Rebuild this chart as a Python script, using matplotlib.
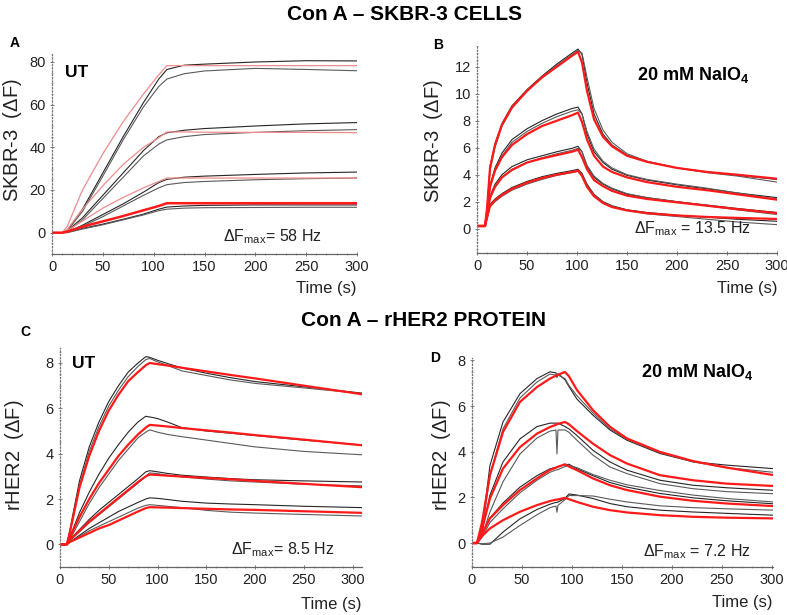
import matplotlib
matplotlib.use("Agg")
import matplotlib.pyplot as plt
from matplotlib.ticker import MultipleLocator

plt.rcParams['font.family'] = ['Liberation Sans', 'DejaVu Sans']
plt.rcParams['mathtext.fontset'] = 'custom'
plt.rcParams['mathtext.rm'] = 'Liberation Sans'
plt.rcParams['mathtext.bf'] = 'Liberation Sans:bold'

# ---- panel A : Con A on SKBR-3 cells, untreated ----
tA = [0, 10, 15, 30, 50, 70, 90, 105, 113, 130, 150, 200, 250, 300]
redA = [
    [0, 0, 3, 20, 37, 52, 65, 74, 78.3, 78.3, 78.3, 78.3, 78.3, 78.3],
    [0, 0, 1.5, 11, 22, 32, 40, 44.5, 47.2, 47.2, 47.1, 47.0, 47.0, 46.9],
    [0, 0, 1, 5.5, 11.5, 16.5, 21, 24, 25.6, 25.6, 25.6, 25.6, 25.6, 25.6],
    [0, 0, 0.5, 2.8, 5.3, 7.8, 10.5, 12.5, 13.8, 13.8, 13.8, 13.8, 13.8, 13.8],
]
blackA = [
    [0, 0, 1, 11, 28, 45, 61, 72, 76.5, 78.5, 79, 80, 80.6, 80.5],
    [0, 0, 0.8, 10, 26.5, 43.5, 59, 68.5, 72, 74.5, 75.8, 77, 76.5, 75.9],
    [0, 0, 0.8, 7, 17.5, 28, 38.5, 45, 46.8, 48, 48.8, 50, 51, 51.6],
    [0, 0, 0.5, 6, 16, 26, 36, 41.5, 43.5, 45, 46, 47, 47.8, 48.3],
    [0, 0, 0.3, 3.5, 8.5, 13.5, 19, 23.5, 25, 26, 26.5, 27.3, 28, 28.4],
    [0, 0, 0.2, 3, 7.5, 12.5, 17.5, 21, 22.5, 23.5, 24, 24.8, 25.3, 25.6],
    [0, 0, 0.2, 2, 4, 6.3, 8.7, 11, 12, 12.5, 12.8, 13, 13, 13],
    [0, 0, 0, 1.7, 3.7, 6, 8.3, 10.3, 11, 11.5, 11.7, 11.8, 11.9, 11.9],
]

# ---- panel B : SKBR-3 cells, 20 mM NaIO4 ----
tB = [0, 8, 10, 13, 18, 25, 35, 50, 65, 80, 95, 101, 105, 110, 117, 126,
      135, 150, 170, 200, 230, 260, 300]
redB = [
    [0.2, 0.2, 1.5, 4.5, 6.2, 7.7, 9.0, 10.2, 11.2, 12.0, 12.8, 13.1, 12.3, 10.2,
     8.1, 6.8, 6.1, 5.4, 4.95, 4.5, 4.2, 4.0, 3.7],
    [0.2, 0.2, 1.2, 3.1, 4.3, 5.3, 6.2, 7.0, 7.6, 8.0, 8.4, 8.6, 7.9, 6.6,
     5.4, 4.6, 4.2, 3.8, 3.45, 3.1, 2.85, 2.55, 2.15],
    [0.2, 0.2, 1.0, 2.3, 3.1, 3.8, 4.35, 4.9, 5.2, 5.45, 5.7, 5.85, 5.3, 4.4,
     3.6, 3.15, 2.8, 2.45, 2.2, 1.95, 1.7, 1.45, 1.15],
    [0.2, 0.2, 0.8, 1.7, 2.1, 2.5, 2.95, 3.4, 3.75, 4.0, 4.2, 4.3, 3.9, 3.1,
     2.4, 1.9, 1.6, 1.35, 1.15, 0.98, 0.87, 0.8, 0.72],
]
blackB = [
    [0.2, 0.2, 1.3, 4.6, 6.3, 7.8, 9.1, 10.3, 11.3, 12.2, 13.0, 13.3, 12.9, 10.8,
     8.5, 7.0, 6.2, 5.45, 4.95, 4.5, 4.2, 3.95, 3.65],
    [0.2, 0.2, 1.2, 4.3, 6.0, 7.6, 8.9, 10.2, 11.2, 12.1, 12.9, 13.2, 13.0, 11.2,
     8.9, 7.3, 6.4, 5.55, 5.0, 4.5, 4.15, 3.9, 3.45],
    [0.2, 0.2, 1.1, 3.2, 4.5, 5.6, 6.6, 7.4, 8.0, 8.5, 8.9, 9.0, 8.5, 7.0,
     5.7, 4.9, 4.4, 3.95, 3.6, 3.25, 2.95, 2.65, 2.3],
    [0.2, 0.2, 1.0, 3.0, 4.3, 5.4, 6.4, 7.2, 7.8, 8.3, 8.7, 8.8, 8.5, 7.2,
     5.9, 5.0, 4.5, 4.0, 3.65, 3.3, 3.0, 2.65, 2.2],
    [0.2, 0.2, 0.9, 2.4, 3.3, 4.0, 4.6, 5.1, 5.4, 5.7, 5.95, 6.1, 5.7, 4.6,
     3.8, 3.3, 2.95, 2.55, 2.3, 2.0, 1.75, 1.5, 1.2],
    [0.2, 0.2, 0.9, 2.2, 3.1, 3.8, 4.4, 4.9, 5.25, 5.55, 5.8, 5.95, 5.7, 4.7,
     3.9, 3.35, 3.0, 2.6, 2.3, 2.0, 1.7, 1.4, 1.05],
    [0.2, 0.2, 0.8, 1.8, 2.2, 2.6, 3.05, 3.5, 3.85, 4.1, 4.3, 4.4, 4.1, 3.3,
     2.55, 2.0, 1.7, 1.4, 1.2, 1.0, 0.85, 0.7, 0.55],
    [0.2, 0.2, 0.7, 1.6, 2.0, 2.4, 2.85, 3.3, 3.65, 3.95, 4.15, 4.25, 4.0, 3.2,
     2.5, 1.95, 1.65, 1.35, 1.1, 0.9, 0.7, 0.5, 0.3],
]

# ---- panel C : Con A on rHER2 protein, untreated ----
tC = [0, 7, 10, 20, 30, 40, 50, 60, 70, 80, 88, 92, 100, 110, 125, 150, 175,
      200, 250, 310]
redC = [
    [0, 0, 0.5, 2.5, 3.9, 5.0, 5.9, 6.6, 7.2, 7.6, 7.9, 8.0, 7.95, 7.89, 7.79,
     7.63, 7.47, 7.32, 7.0, 6.62],
    [0, 0, 0.3, 1.2, 2.0, 2.7, 3.3, 3.9, 4.4, 4.85, 5.15, 5.27, 5.24, 5.2, 5.13,
     5.03, 4.93, 4.82, 4.62, 4.37],
    [0, 0, 0.2, 0.6, 1.0, 1.35, 1.7, 2.05, 2.4, 2.75, 3.0, 3.08, 3.06, 3.03, 2.99,
     2.93, 2.87, 2.8, 2.67, 2.52],
    [0, 0, 0.1, 0.3, 0.5, 0.7, 0.85, 1.05, 1.25, 1.45, 1.6, 1.64, 1.63, 1.62, 1.6,
     1.57, 1.54, 1.52, 1.46, 1.39],
]
blackC = [
    [0, 0, 0.6, 2.8, 4.3, 5.4, 6.3, 7.0, 7.6, 8.0, 8.28, 8.25, 8.12, 7.98, 7.78,
     7.55, 7.35, 7.18, 6.95, 6.67],
    [0, 0, 0.5, 2.6, 4.1, 5.2, 6.1, 6.8, 7.4, 7.85, 8.15, 8.2, 8.05, 7.9, 7.65,
     7.45, 7.25, 7.1, 6.9, 6.65],
    [0, 0, 0.3, 1.4, 2.3, 3.1, 3.8, 4.4, 4.95, 5.4, 5.65, 5.62, 5.55, 5.4, 5.15,
     5.0, 4.9, 4.8, 4.6, 4.38],
    [0, 0, 0.2, 1.0, 1.8, 2.5, 3.1, 3.7, 4.2, 4.7, 4.95, 5.05, 4.95, 4.85, 4.75,
     4.6, 4.45, 4.3, 4.1, 3.95],
    [0, 0, 0.2, 0.65, 1.1, 1.5, 1.85, 2.2, 2.55, 2.9, 3.2, 3.25, 3.2, 3.13, 3.05,
     2.97, 2.9, 2.85, 2.8, 2.75],
    [0, 0, 0.15, 0.55, 0.95, 1.3, 1.65, 2.0, 2.35, 2.7, 3.0, 3.15, 3.12, 3.05, 2.98,
     2.88, 2.8, 2.75, 2.65, 2.58],
    [0, 0, 0.1, 0.4, 0.7, 0.95, 1.2, 1.45, 1.65, 1.85, 2.0, 2.05, 2.03, 1.98, 1.9,
     1.82, 1.78, 1.75, 1.68, 1.62],
    [0, 0, 0.1, 0.35, 0.6, 0.8, 1.0, 1.2, 1.4, 1.6, 1.72, 1.75, 1.72, 1.68, 1.62,
     1.5, 1.42, 1.38, 1.32, 1.25],
]

# ---- panel D : rHER2 protein, 20 mM NaIO4 ----
tD = [0, 5, 10, 18, 31, 48, 65, 78, 84, 85, 86, 93, 97, 105, 121, 138, 155,
      188, 221, 255, 301]
redD = [
    [0, 0, 0.9, 2.97, 4.86, 6.18, 6.83, 7.2, 7.33, 7.35, 7.37, 7.49, 7.3, 6.7,
     5.82, 5.09, 4.58, 3.99, 3.59, 3.3, 2.98],
    [0, 0, 0.6, 1.95, 3.26, 4.2, 4.79, 5.08, 5.18, 5.2, 5.22, 5.3, 5.2, 4.9,
     4.35, 3.85, 3.48, 2.97, 2.75, 2.6, 2.5],
    [0, 0, 0.4, 1.08, 1.66, 2.32, 2.83, 3.2, 3.3, 3.32, 3.34, 3.45, 3.35, 3.19,
     2.83, 2.53, 2.32, 2.03, 1.85, 1.73, 1.62],
    [0, 0, 0.3, 0.64, 1.0, 1.37, 1.66, 1.84, 1.9, 1.9, 1.91, 1.98, 1.92, 1.8,
     1.59, 1.44, 1.34, 1.22, 1.15, 1.11, 1.08],
]
blackD = [
    [0, 0, 0.6, 3.4, 5.3, 6.54, 7.2, 7.5, 7.45, 7.25, 7.42, 7.15, 6.85, 6.3,
     5.6, 4.95, 4.5, 3.92, 3.56, 3.41, 3.26],
    [0, 0, 0.4, 3.0, 5.0, 6.35, 7.05, 7.4, 7.35, 7.35, 7.35, 7.2, 6.9, 6.45,
     5.7, 5.0, 4.55, 3.95, 3.55, 3.3, 3.1],
    [0, 0, 0.5, 2.1, 3.55, 4.56, 5.1, 5.25, 5.25, 5.25, 5.25, 5.1, 5.0, 4.71,
     4.06, 3.55, 3.19, 2.75, 2.53, 2.42, 2.31],
    [0, 0, 0.3, 1.36, 2.68, 3.9, 4.6, 4.9, 4.95, 3.9, 4.95, 4.95, 4.85, 4.5,
     3.85, 3.33, 3.04, 2.6, 2.38, 2.25, 2.16],
    [0, 0, 0.35, 1.1, 1.75, 2.45, 2.95, 3.25, 3.32, 3.32, 3.35, 3.42, 3.45, 3.25,
     2.95, 2.65, 2.45, 2.17, 1.98, 1.85, 1.72],
    [0, 0, 0.25, 0.9, 1.5, 2.2, 2.75, 3.1, 3.2, 3.2, 3.22, 3.35, 3.4, 3.3,
     3.0, 2.75, 2.55, 2.3, 2.1, 1.95, 1.8],
    [0, 0, -0.05, -0.05, 0.48, 1.06, 1.47, 1.7, 1.78, 1.78, 1.8, 1.95, 2.15, 2.1,
     1.95, 1.73, 1.59, 1.44, 1.36, 1.3, 1.22],
    [0, 0, -0.03, 0.0, 0.26, 0.77, 1.24, 1.55, 1.62, 1.35, 1.65, 1.9, 2.08, 2.08,
     2.06, 1.92, 1.8, 1.63, 1.55, 1.5, 1.44],
]

black_colors = ['#262626', '#5a5a5a']


def draw_panel(ax, t, blacks, reds, red_colors, red_widths, xmax, ylim, ystep,
               ylabel, label_xy):
    for i, b in enumerate(blacks):
        ax.plot(t, b, color=black_colors[i % 2], lw=0.8)
    for r, c, w in zip(reds, red_colors, red_widths):
        ax.plot(t, r, color=c, lw=w)

    ax.set_xlim(0, xmax)
    ax.set_ylim(*ylim)
    ax.xaxis.set_major_locator(MultipleLocator(50))
    ax.xaxis.set_minor_locator(MultipleLocator(10))
    ax.yaxis.set_major_locator(MultipleLocator(ystep))
    ax.yaxis.set_minor_locator(MultipleLocator(ystep / 4))

    for s in ['top', 'right']:
        ax.spines[s].set_visible(False)
    ax.spines['left'].set_linestyle(':')
    ax.spines['left'].set_color('#777777')
    ax.spines['bottom'].set_color('#666666')
    ax.spines['left'].set_linewidth(0.9)
    ax.spines['bottom'].set_linewidth(0.9)

    ax.tick_params(which='major', direction='inout', length=3, width=0.6,
                   color='#666666', labelcolor='#222222', labelsize=10.5, pad=3)
    ax.tick_params(which='minor', direction='inout', length=2, width=0.5,
                   color='#888888')
    # y label placed by its centre
    ax.text(label_xy[0], label_xy[1], ylabel, transform=ax.transAxes, rotation=90,
            ha='center', va='center', fontsize=14.5, color='#222222')
    ax.text(1.0, -0.17, 'Time (s)', transform=ax.transAxes, ha='right', va='center',
            fontsize=12, color='#222222')


def main():
    fig = plt.figure(figsize=(7.87, 6.15), dpi=100)

    axA = fig.add_axes([0.0661, 0.587, 0.3875, 0.3285])
    axB = fig.add_axes([0.6061, 0.5886, 0.3812, 0.3382])
    axC = fig.add_axes([0.0762, 0.078, 0.3837, 0.3561])
    axD = fig.add_axes([0.5997, 0.078, 0.3825, 0.3398])

    pink = '#f08c8c'
    red = '#ff1a1a'
    lab_skbr = 'SKBR-3  ($\\Delta$F)'
    lab_her2 = 'rHER2  ($\\Delta$F)'
    draw_panel(axA, tA, blackA, redA, [pink, pink, pink, red], [0.9, 0.9, 0.9, 1.8],
               300, (-10, 84.7), 20, lab_skbr, (-0.128, 0.564))
    draw_panel(axB, tB, blackB, redB, [red] * 4, [1.6] * 4,
               300, (-1.8, 13.6), 2, lab_skbr, (-0.145, 0.54))
    draw_panel(axC, tC, blackC, redC, [red] * 4, [1.6] * 4,
               309.6, (-1.0, 8.66), 2, lab_her2, (-0.152, 0.51))
    draw_panel(axD, tD, blackD, redD, [red] * 4, [1.6] * 4,
               301, (-1.05, 8.1), 2, lab_her2, (-0.101, 0.536))

    # inner annotations
    axA.text(0.043, 0.90, 'UT', transform=axA.transAxes, fontsize=12.5,
             fontweight='bold', va='center')
    axA.text(0.56, 0.084, 'ΔF$_{\\rm max}$= 58 Hz', transform=axA.transAxes,
             fontsize=11.5, va='center', color='#222222')
    axB.text(0.72, 0.856, '20 mM NaIO$_{\\mathbf{4}}$', transform=axB.transAxes,
             fontsize=13, fontweight='bold', ha='center', va='center')
    axB.text(0.717, 0.115, 'ΔF$_{\\rm max}$ = 13.5 Hz', transform=axB.transAxes,
             fontsize=11.5, ha='center', va='center', color='#222222')
    axC.text(0.04, 0.93, 'UT', transform=axC.transAxes, fontsize=12.5,
             fontweight='bold', va='center')
    axC.text(0.738, 0.078, 'ΔF$_{\\rm max}$= 8.5 Hz', transform=axC.transAxes,
             fontsize=11.5, ha='center', va='center', color='#222222')
    axD.text(0.748, 0.933, '20 mM NaIO$_{\\mathbf{4}}$', transform=axD.transAxes,
             fontsize=13, fontweight='bold', ha='center', va='center')
    axD.text(0.748, 0.072, 'ΔF$_{\\rm max}$ = 7.2 Hz', transform=axD.transAxes,
             fontsize=11.5, ha='center', va='center', color='#222222')

    # panel letters and row titles
    for letter, x, y in [('A', 15, 43), ('B', 438, 45), ('C', 25, 332), ('D', 435, 358)]:
        fig.text(x / 787, 1 - y / 615, letter, fontsize=10, fontweight='bold',
                 ha='center', va='center')
    fig.text(405 / 787, 1 - 15 / 615, 'Con A – SKBR-3 CELLS', fontsize=15,
             fontweight='bold', ha='center', va='center')
    fig.text(424 / 787, 1 - 320 / 615, 'Con A – rHER2 PROTEIN', fontsize=15,
             fontweight='bold', ha='center', va='center')

    fig.savefig('out.png', dpi=100)


if __name__ == "__main__":
    main()
